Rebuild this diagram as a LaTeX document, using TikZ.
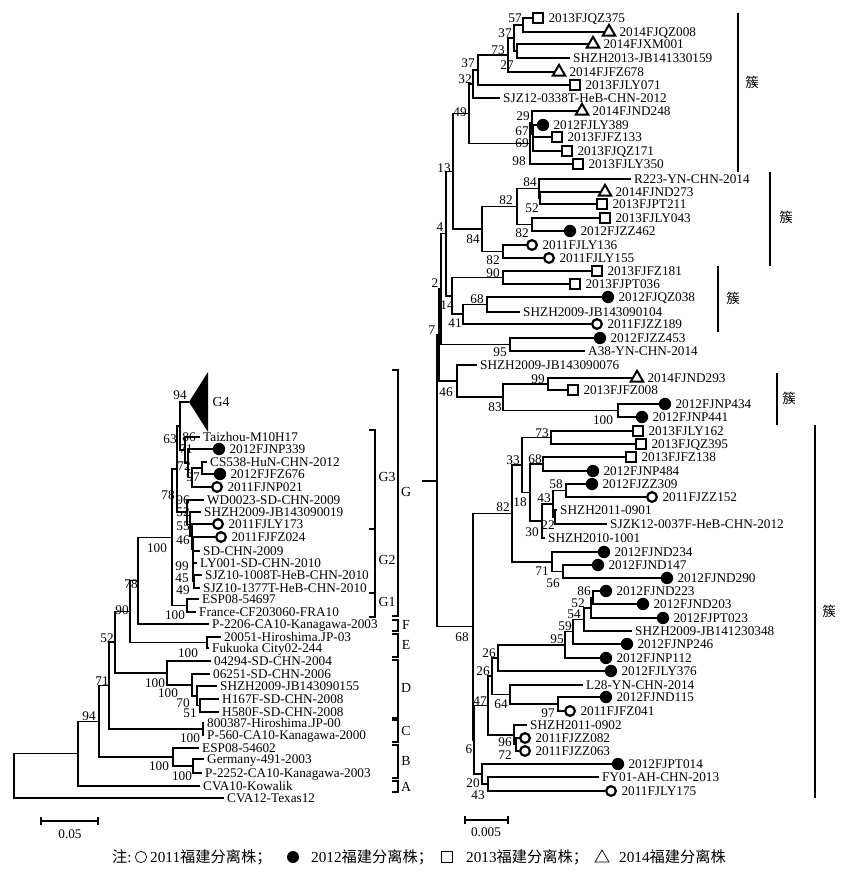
\documentclass[tikz,border=0pt]{standalone}
\usepackage{fontspec}
\setmainfont{Liberation Serif}
\newfontfamily\cjk{Noto Sans CJK SC}
\usetikzlibrary{calc,positioning,shapes.geometric}

\newcounter{bsn}
% tip with a marker, tip without, bootstrap value, inner node
\newcommand\mtip[5]{\node[#2] (#1) at (#3,#4) {};
  \node[lab,right=0.31cm of #1.center] (#1l) {#5};}
\newcommand\ptip[4]{\node[lab,inner xsep=0.09cm] (#1) at (#2,#3) {#4};}
\newcommand\boot[3]{\stepcounter{bsn}\node[bsv] (bs\thebsn) at (#1,#2) {#3};}
\newcommand\inode[4]{\path ($(#3)!.5!(#4)$) coordinate (#1m);
  \coordinate (#1) at (#2,0 |- #1m);
  \draw[br] (#1) |- (#3) (#1) |- (#4);}

\begin{document}
\begin{tikzpicture}[x=0.03cm,y=-0.03cm,
  br/.style={line width=1.35pt},
  bar/.style={line width=1.2pt},
  lab/.style={font=\fontsize{11.3}{12}\selectfont,inner sep=0pt,anchor=west,
    text height=7.4pt,text depth=0pt},
  bsv/.style={font=\fontsize{11.3}{12}\selectfont,inner sep=0pt,
    text height=7.4pt,text depth=0pt},
  grp/.style={font=\fontsize{11.8}{12}\selectfont,inner sep=0pt},
  cu/.style={font=\cjk\fontsize{11.5}{12}\selectfont,inner sep=0pt},
  leg/.style={font=\fontsize{13}{14}\selectfont,inner sep=0pt,anchor=west},
  mc/.style={circle,draw,line width=1.9pt,inner sep=0pt,minimum size=0.29cm},
  md/.style={circle,fill,inner sep=0pt,minimum size=0.37cm},
  ms/.style={rectangle,draw,line width=1.8pt,inner sep=0pt,minimum size=0.30cm},
  mt/.style={regular polygon,regular polygon sides=3,draw,line width=1.7pt,
    inner sep=0pt,minimum size=0.43cm},
  lc/.style={circle,draw,line width=0.6pt,inner sep=0pt,minimum size=0.34cm},
  ld/.style={circle,fill,inner sep=0pt,minimum size=0.36cm},
  ls/.style={rectangle,draw,line width=0.6pt,inner sep=0pt,minimum size=0.34cm},
  lt/.style={regular polygon,regular polygon sides=3,draw,line width=0.6pt,
    inner sep=0pt,minimum size=0.48cm}]
\useasboundingbox (0,0) rectangle (844,872);

% ---------- right tree ----------
\mtip{QZ375}{ms}{538}{18}{2013FJQZ375}
\mtip{QZ008}{mt}{609}{32}{2014FJQZ008}
\mtip{XM001}{mt}{593}{44}{2014FJXM001}
\ptip{sh159}{570}{58}{SHZH2013-JB141330159}
\mtip{FZ678}{mt}{559}{72}{2014FJFZ678}
\mtip{LY071}{ms}{575}{85}{2013FJLY071}
\ptip{sjz12}{500}{98}{SJZ12-0338T-HeB-CHN-2012}
\mtip{ND248}{mt}{582}{111}{2014FJND248}
\mtip{LY389}{md}{543}{125}{2012FJLY389}
\mtip{FZ133}{ms}{557}{137}{2013FJFZ133}
\mtip{QZ171}{ms}{567}{151}{2013FJQZ171}
\mtip{LY350}{ms}{578}{164}{2013FJLY350}
\inode{a57}{523}{QZ375}{QZ008}
\inode{a27}{517}{XM001}{sh159}
\inode{a37}{514}{a57}{a27}
\inode{a73}{508}{a37}{FZ678}
\inode{b37}{478}{a73}{LY071}
\inode{a32}{473}{b37}{sjz12}
\inode{a69}{533}{FZ133}{QZ171}
\inode{a67}{533}{LY389}{a69}
\inode{a29}{532}{ND248}{a67}
\inode{a98}{530}{a29}{LY350}
\inode{a49}{469}{a32}{a98}

\ptip{r223}{631}{179}{R223-YN-CHN-2014}
\mtip{ND273}{mt}{605}{192}{2014FJND273}
\mtip{PT211}{ms}{602}{204}{2013FJPT211}
\mtip{LY043}{ms}{605}{218}{2013FJLY043}
\mtip{ZZ462}{md}{570}{231}{2012FJZZ462}
\mtip{LY136}{mc}{532}{245}{2011FJLY136}
\mtip{LY155}{mc}{549}{258}{2011FJLY155}
\inode{b52}{540}{ND273}{PT211}
\inode{b84}{539}{r223}{b52}
\inode{b82}{532}{LY043}{ZZ462}
\inode{c82}{517}{b84}{b82}
\inode{d82}{503}{LY136}{LY155}
\inode{a84}{482}{c82}{d82}
\inode{a13}{453}{a49}{a84}

\mtip{FZ181}{ms}{597}{271}{2013FJFZ181}
\mtip{PT036}{ms}{575}{284}{2013FJPT036}
\mtip{QZ038}{md}{608}{297}{2012FJQZ038}
\ptip{sh104}{520}{312}{SHZH2009-JB143090104}
\mtip{ZZ189}{mc}{597}{324}{2011FJZZ189}
\inode{a90}{503}{FZ181}{PT036}
\inode{a68}{487}{QZ038}{sh104}
\inode{a41}{463}{a68}{ZZ189}
\inode{a14}{452}{a90}{a41}
\inode{a4}{446}{a13}{a14}
\mtip{ZZ453}{md}{600}{338}{2012FJZZ453}
\ptip{yn38}{585}{351}{A38-YN-CHN-2014}
\inode{a95}{510}{ZZ453}{yn38}
\inode{a2}{441}{a4}{a95}

\ptip{sh076}{477}{365}{SHZH2009-JB143090076}
\mtip{ND293}{mt}{637}{378}{2014FJND293}
\mtip{FZ008}{ms}{573}{390}{2013FJFZ008}
\mtip{NP434}{md}{665}{404}{2012FJNP434}
\mtip{NP441}{md}{642}{417}{2012FJNP441}
\inode{a99}{548}{ND293}{FZ008}
\inode{a100}{618}{NP434}{NP441}
\inode{a83}{503}{a99}{a100}
\inode{a46}{457}{sh076}{a83}
\inode{a7}{439}{a2}{a46}

\mtip{LY162}{ms}{638}{431}{2013FJLY162}
\mtip{QZ395}{ms}{641}{444}{2013FJQZ395}
\mtip{FZ138}{ms}{631}{457}{2013FJFZ138}
\mtip{NP484}{md}{593}{471}{2012FJNP484}
\mtip{ZZ309}{md}{592}{484}{2012FJZZ309}
\mtip{ZZ152}{mc}{652}{497}{2011FJZZ152}
\ptip{sh0901}{557}{510}{SHZH2011-0901}
\ptip{sjzk12}{607}{524}{SJZK12-0037F-HeB-CHN-2012}
\ptip{sh1001}{545}{538}{SHZH2010-1001}
\mtip{ND234}{md}{604}{552}{2012FJND234}
\mtip{ND147}{md}{598}{565}{2012FJND147}
\mtip{ND290}{md}{667}{578}{2012FJND290}
\inode{b73}{551}{LY162}{QZ395}
\inode{b68}{543}{FZ138}{NP484}
\inode{a58}{566}{ZZ309}{ZZ152}
\inode{a22}{555}{sh0901}{sjzk12}
\inode{a43}{553}{a58}{a22}
\inode{a30}{542}{a43}{sh1001}
\inode{a18}{530}{b68}{a30}
\inode{a33}{522}{b73}{a18}
\inode{a56}{563}{ND147}{ND290}
\inode{a71}{552}{ND234}{a56}
\inode{e82}{512}{a33}{a71}

\mtip{ND223}{md}{606}{591}{2012FJND223}
\mtip{ND203}{md}{643}{604}{2012FJND203}
\mtip{PT023}{md}{663}{618}{2012FJPT023}
\ptip{sh348}{632}{631}{SHZH2009-JB141230348}
\mtip{NP246}{md}{627}{644}{2012FJNP246}
\mtip{NP112}{md}{606}{658}{2012FJNP112}
\mtip{LY376}{md}{611}{671}{2012FJLY376}
\ptip{l28}{583}{685}{L28-YN-CHN-2014}
\mtip{ND115}{md}{606}{697}{2012FJND115}
\mtip{FZ041}{mc}{570}{711}{2011FJFZ041}
\ptip{sh0902}{527}{725}{SHZH2011-0902}
\mtip{ZZ082}{mc}{525}{738}{2011FJZZ082}
\mtip{ZZ063}{mc}{525}{751}{2011FJZZ063}
\mtip{PT014}{md}{618}{764}{2012FJPT014}
\ptip{fy01}{599}{777}{FY01-AH-CHN-2013}
\mtip{LY175}{mc}{611}{791}{2011FJLY175}
\inode{a86}{593}{ND223}{ND203}
\inode{c52}{591}{a86}{PT023}
\inode{a54}{584}{c52}{sh348}
\inode{a59}{573}{a54}{NP246}
\inode{b95}{565}{a59}{NP112}
\inode{a26}{498}{b95}{LY376}
\inode{a97}{558}{ND115}{FZ041}
\inode{a64}{510}{l28}{a97}
\inode{b26}{492}{a26}{a64}
\inode{a72}{516}{ZZ082}{ZZ063}
\inode{a96}{514}{sh0902}{a72}
\inode{a47}{488}{b26}{a96}
\inode{b43}{488}{fy01}{LY175}
\inode{a20}{482}{PT014}{b43}
\inode{a6}{474}{a47}{a20}
\inode{c68}{473}{e82}{a6}
\inode{rroot}{437}{a7}{c68}
\coordinate (rstub) at (422,0 |- rroot);
\draw[br] (rstub) -- (rroot);

% bootstrap values, right
\boot{515}{18}{57} \boot{505}{33}{37} \boot{498}{50}{73} \boot{507}{65}{27}
\boot{468}{63}{37} \boot{465}{79}{32} \boot{460}{112}{49} \boot{523}{116}{29}
\boot{522}{131}{67} \boot{522}{143}{69} \boot{519}{161}{98} \boot{444}{168}{13}
\boot{530}{182}{84} \boot{506}{200}{82} \boot{532}{208}{52} \boot{440}{227}{4}
\boot{522}{233}{82} \boot{473}{239}{84} \boot{493}{260}{82} \boot{493}{273}{90}
\boot{435}{283}{2} \boot{477}{299}{68} \boot{447}{305}{14} \boot{455}{323}{41}
\boot{432}{330}{7} \boot{500}{352}{95} \boot{538}{379}{99} \boot{446}{392}{46}
\boot{495}{407}{83} \boot{603}{420}{100} \boot{542}{433}{73} \boot{513}{460}{33}
\boot{535}{459}{68} \boot{556}{484}{58} \boot{544}{498}{43} \boot{520}{502}{18}
\boot{503}{507}{82} \boot{548}{525}{22} \boot{532}{532}{30} \boot{542}{571}{71}
\boot{553}{583}{56} \boot{584}{591}{86} \boot{578}{603}{52} \boot{574}{614}{54}
\boot{565}{626}{59} \boot{462}{637}{68} \boot{557}{639}{95} \boot{489}{653}{26}
\boot{483}{671}{26} \boot{480}{701}{47} \boot{501}{704}{64} \boot{548}{713}{97}
\boot{505}{742}{96} \boot{469}{749}{6} \boot{505}{755}{72} \boot{473}{783}{20}
\boot{478}{795}{43}

% cluster bars
\draw[bar] (738,13) -- (738,172);
\draw[bar] (770,172) -- (770,266);
\draw[bar] (718,266) -- (718,332);
\draw[bar] (777,373) -- (777,425);
\draw[bar] (815,425) -- (815,798);
\node[cu] (cu1) at (752,82) {簇};
\node[cu] (cu2) at (786,217) {簇};
\node[cu] (cu3) at (733,298) {簇};
\node[cu] (cu4) at (789,398) {簇};
\node[cu] (cu5) at (829,611) {簇};

% ---------- left tree ----------
\coordinate (g4) at (189,402);
\fill (g4) -- (208,372) -- (208,432) -- cycle;
\node[grp] (g4l) at (221,402) {G4};
\ptip{taizhou}{200}{437}{Taizhou-M10H17}
\mtip{NP339}{md}{219}{449}{2012FJNP339}
\ptip{cs538}{207}{462}{CS538-HuN-CHN-2012}
\mtip{FZ676}{md}{220}{474}{2012FJFZ676}
\mtip{NP021}{mc}{217}{487}{2011FJNP021}
\ptip{wd0023}{204}{500}{WD0023-SD-CHN-2009}
\ptip{sh019}{201}{512}{SHZH2009-JB143090019}
\mtip{LY173}{mc}{218}{524}{2011FJLY173}
\mtip{FZ024}{mc}{221}{537}{2011FJFZ024}
\ptip{sdchn}{200}{551}{SD-CHN-2009}
\ptip{ly001}{197}{563}{LY001-SD-CHN-2010}
\ptip{sjz1008}{202}{575}{SJZ10-1008T-HeB-CHN-2010}
\ptip{sjz1377}{200}{588}{SJZ10-1377T-HeB-CHN-2010}
\ptip{esp697}{199}{599}{ESP08-54697}
\ptip{france}{196}{612}{France-CF203060-FRA10}
\ptip{p2206}{209}{624}{P-2206-CA10-Kanagawa-2003}
\ptip{hiro03}{221}{637}{20051-Hiroshima.JP-03}
\ptip{fukuoka}{209}{648}{Fukuoka City02-244}
\ptip{sd2004}{211}{661}{04294-SD-CHN-2004}
\ptip{sd2006}{210}{674}{06251-SD-CHN-2006}
\ptip{sh155}{217}{686}{SHZH2009-JB143090155}
\ptip{h167f}{219}{699}{H167F-SD-CHN-2008}
\ptip{h580f}{219}{712}{H580F-SD-CHN-2008}
\ptip{hiro00}{204}{723}{800387-Hiroshima.JP-00}
\ptip{p560}{204}{735}{P-560-CA10-Kanagawa-2000}
\ptip{esp602}{199}{748}{ESP08-54602}
\ptip{germany}{204}{759}{Germany-491-2003}
\ptip{p2252}{202}{773}{P-2252-CA10-Kanagawa-2003}
\ptip{kowalik}{200}{786}{CVA10-Kowalik}
\ptip{texas}{224}{798}{CVA12-Texas12}
\inode{g97}{202}{cs538}{FZ676}
\inode{g72}{192}{g97}{NP021}
\inode{g71}{188}{NP339}{g72}
\inode{g86}{185}{taizhou}{g71}
\inode{g63}{180}{g4}{g86}
\inode{g49}{194}{sjz1008}{sjz1377}
\inode{g45}{193}{ly001}{g49}
\inode{g99}{193}{sdchn}{g45}
\inode{g46}{193}{FZ024}{g99}
\inode{g55}{192}{LY173}{g46}
\inode{g52}{190}{sh019}{g55}
\inode{g96}{187}{wd0023}{g52}
\inode{g78}{177}{g63}{g96}
\inode{g1}{187}{esp697}{france}
\inode{gG}{172}{g78}{g1}
\inode{f78}{138}{gG}{p2206}
\inode{e100}{207}{hiro03}{fukuoka}
\inode{e90}{130}{f78}{e100}
\inode{d51}{200}{h167f}{h580f}
\inode{d70}{197}{sh155}{d51}
\inode{d100}{192}{sd2006}{d70}
\inode{dd100}{167}{sd2004}{d100}
\inode{d52}{115}{e90}{dd100}
\inode{c100}{203}{hiro00}{p560}
\inode{c71}{109}{d52}{c100}
\inode{b100}{193}{germany}{p2252}
\inode{bb100}{173}{esp602}{b100}
\inode{b94}{99}{c71}{bb100}
\inode{aA}{78}{b94}{kowalik}
\inode{lroot}{14}{aA}{texas}

% bootstrap values, left
\boot{180}{395}{94} \boot{170}{439}{63} \boot{189}{437}{86} \boot{186}{449}{71}
\boot{184}{466}{72} \boot{193}{477}{97} \boot{168}{495}{78} \boot{183}{500}{96}
\boot{183}{512}{52} \boot{183}{526}{55} \boot{183}{540}{46} \boot{157}{548}{100}
\boot{182}{566}{99} \boot{182}{578}{45} \boot{131}{584}{78} \boot{183}{590}{49}
\boot{122}{610}{90} \boot{175}{615}{100} \boot{107}{638}{52} \boot{188}{653}{100}
\boot{102}{681}{71} \boot{155}{683}{100} \boot{168}{693}{100} \boot{183}{703}{70}
\boot{190}{713}{51} \boot{89}{716}{94} \boot{190}{738}{100} \boot{159}{766}{100}
\boot{182}{776}{100}

% genotype brackets
\draw[bar] (369,430) -- (375,430) -- (375,617) -- (369,617);
\draw[bar] (369,529) -- (375,529);
\draw[bar] (369,593) -- (375,593);
\node[grp] (gG3) at (387,477) {G3};
\node[grp] (gG2) at (387,560) {G2};
\node[grp] (gG1) at (387,602) {G1};
\draw[bar] (392,370) -- (398,370) -- (398,616) -- (392,616);
\draw[bar] (392,620) -- (398,620) -- (398,631) -- (392,631);
\draw[bar] (392,634) -- (398,634) -- (398,657) -- (392,657);
\draw[bar] (392,660) -- (398,660) -- (398,718) -- (392,718);
\draw[bar] (392,720) -- (398,720) -- (398,742) -- (392,742);
\draw[bar] (392,745) -- (398,745) -- (398,778) -- (392,778);
\draw[bar] (392,781) -- (398,781) -- (398,792) -- (392,792);
\node[grp] (gpG) at (406,492) {G};
\node[grp] (gpF) at (406,625) {F};
\node[grp] (gpE) at (406,645) {E};
\node[grp] (gpD) at (406,688) {D};
\node[grp] (gpC) at (406,731) {C};
\node[grp] (gpB) at (406,761) {B};
\node[grp] (gpA) at (406,787) {A};

% scale bars
\coordinate (sl1) at (41,821); \coordinate (sl2) at (98,821);
\draw[bar] (sl1) -- (sl2);
\draw[bar] ($(sl1)+(0,-4)$) -- ($(sl1)+(0,4)$);
\draw[bar] ($(sl2)+(0,-4)$) -- ($(sl2)+(0,4)$);
\node[bsv] (sll) at (70,834) {0.05};
\coordinate (sr1) at (465,820); \coordinate (sr2) at (508,820);
\draw[bar] (sr1) -- (sr2);
\draw[bar] ($(sr1)+(0,-4)$) -- ($(sr1)+(0,4)$);
\draw[bar] ($(sr2)+(0,-4)$) -- ($(sr2)+(0,4)$);
\node[bsv] (srl) at (486,832) {0.005};

% legend
\node[leg] (lg0) at (112,857) {{\cjk 注}:};
\node[lc] (lg1) at (141,857) {};
\node[leg] (lg1t) at (150,857) {2011{\cjk 福建分离株；}};
\node[ld] (lg2) at (293,857) {};
\node[leg] (lg2t) at (311,857) {2012{\cjk 福建分离株；}};
\node[ls] (lg3) at (447,857) {};
\node[leg] (lg3t) at (466,857) {2013{\cjk 福建分离株；}};
\node[lt] (lg4) at (602,858) {};
\node[leg] (lg4t) at (619,857) {2014{\cjk 福建分离株}};
\end{tikzpicture}
\end{document}
